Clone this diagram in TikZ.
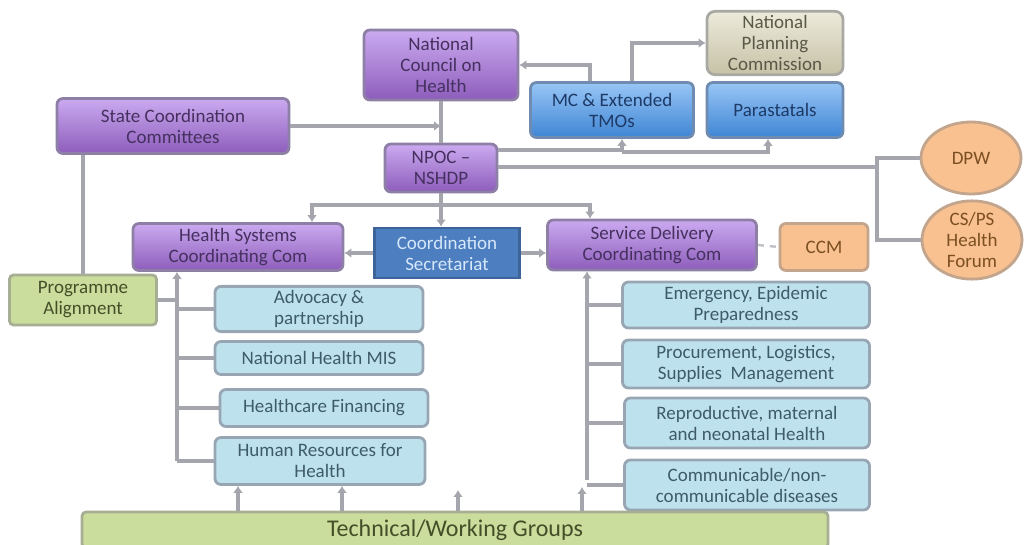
\documentclass[tikz,border=0pt]{standalone}
\usepackage{fontspec}
\setmainfont{Carlito}
\usetikzlibrary{shapes.geometric,arrows.meta}
\definecolor{purT}{HTML}{CBAAF0}
\definecolor{purB}{HTML}{8D5DBB}
\definecolor{purD}{HTML}{8E7FA6}
\definecolor{purTx}{HTML}{45305F}
\definecolor{bluT}{HTML}{98C6F6}
\definecolor{bluB}{HTML}{3F85D4}
\definecolor{bluD}{HTML}{6F8CB0}
\definecolor{bluTx}{HTML}{1E3A66}
\definecolor{secF}{HTML}{4D7EC0}
\definecolor{secD}{HTML}{3D6498}
\definecolor{secTx}{HTML}{D6E8FA}
\definecolor{begT}{HTML}{ECEADB}
\definecolor{begB}{HTML}{C6C2A6}
\definecolor{begD}{HTML}{A9A9A4}
\definecolor{begTx}{HTML}{5A5846}
\definecolor{orF}{HTML}{F9C18F}
\definecolor{orD}{HTML}{C2A58C}
\definecolor{orTx}{HTML}{7B4F22}
\definecolor{lbF}{HTML}{BDE1ED}
\definecolor{lbD}{HTML}{98A6B4}
\definecolor{lbTx}{HTML}{3E5B6A}
\definecolor{grF}{HTML}{CADD9C}
\definecolor{grD}{HTML}{A6AE94}
\definecolor{grTx}{HTML}{434F28}
\definecolor{lineC}{HTML}{A5A5AD}
\tikzset{
  base/.style={align=center, inner sep=2pt, font=\fontsize{9.5}{10.5}\selectfont, line width=1.4pt},
  purbox/.style={base, rounded corners=3pt, draw=purD, top color=purT, bottom color=purB, text=purTx},
  blubox/.style={base, rounded corners=3pt, draw=bluD, top color=bluT, bottom color=bluB, text=bluTx},
  secbox/.style={base, draw=secD, fill=secF, text=secTx},
  begbox/.style={base, rounded corners=4pt, draw=begD, top color=begT, bottom color=begB, text=begTx},
  orbox/.style={base, rounded corners=3pt, draw=orD, fill=orF, text=orTx},
  orell/.style={base, ellipse, inner sep=0pt, draw=orD, fill=orF, text=orTx},
  lbbox/.style={base, rounded corners=3pt, draw=lbD, fill=lbF, text=lbTx},
  grbox/.style={base, rounded corners=2pt, draw=grD, fill=grF, text=grTx},
  conn/.style={draw=lineC, line width=1.8pt},
  arr/.style={-{Latex[length=3.5pt,width=5pt]}},
  thinconn/.style={draw=lineC!70, line width=1.2pt, dashed}
}
\begin{document}
\begin{tikzpicture}[x=0.5pt,y=-0.5pt]
\useasboundingbox (0,0) rectangle (1025,545);
% nodes
\node[purbox, minimum width=77pt, minimum height=35pt] (nch) at (441,65) {National\\Council on\\Health};
\node[purbox, minimum width=116pt, minimum height=27.5pt] (scc) at (173,126) {State Coordination\\Committees};
\node[purbox, minimum width=56pt, minimum height=24pt] (npoc) at (441,168) {NPOC –\\NSHDP};
\node[begbox, minimum width=68pt, minimum height=31.5pt] (npc) at (775,43) {National\\Planning\\Commission};
\node[blubox, minimum width=81.5pt, minimum height=27.5pt] (mc) at (612,110) {MC \& Extended\\TMOs};
\node[blubox, minimum width=68pt, minimum height=27.5pt] (para) at (775,110) {Parastatals};
\node[orell, minimum width=50pt, minimum height=36pt] (dpw) at (971,158) {DPW};
\node[orell, minimum width=50pt, minimum height=35pt] (csps) at (972,240) {CS/PS\\Health\\Forum};
\node[orbox, minimum width=44pt, minimum height=23.5pt] (ccm) at (824,247) {CCM};
\node[purbox, minimum width=104.5pt, minimum height=25pt] (sdc) at (652,245) {Service Delivery\\Coordinating Com};
\node[secbox, minimum width=72.5pt, minimum height=25pt] (cs) at (447,253) {Coordination\\Secretariat};
\node[purbox, minimum width=105pt, minimum height=23.5pt] (hsc) at (238,247) {Health Systems\\Coordinating Com};
\node[grbox, minimum width=73.5pt, minimum height=25pt] (pa) at (83,300) {Programme\\Alignment};
\node[lbbox, minimum width=104pt, minimum height=19pt] (adv) at (319,309) {Advocacy \&\\partnership};
\node[lbbox, minimum width=104pt, minimum height=16.5pt] (mis) at (319,358) {National Health MIS};
\node[lbbox, minimum width=104pt, minimum height=18.5pt] (fin) at (324,408) {Healthcare Financing};
\node[lbbox, minimum width=105pt, minimum height=23.5pt] (hr) at (320,461) {Human Resources for\\Health};
\node[lbbox, minimum width=123.5pt, minimum height=23pt] (emg) at (746,305) {Emergency, Epidemic\\Preparedness};
\node[lbbox, minimum width=123.5pt, minimum height=24pt] (proc) at (746,364) {Procurement, Logistics,\\Supplies~ Management};
\node[lbbox, minimum width=122.5pt, minimum height=25pt] (repr) at (747,423) {Reproductive, maternal\\and neonatal Health};
\node[lbbox, minimum width=122.5pt, minimum height=25pt] (comm) at (747,485) {Communicable/non-\\communicable diseases};
\node[grbox, minimum width=373pt, minimum height=18pt, font=\fontsize{12}{13}\selectfont] (twg) at (455,530) {Technical/Working Groups};
% coordinates
\coordinate (j1) at (590,0);
\coordinate (j2) at (632,47);
\coordinate (y150) at (0,150);
\coordinate (j4) at (622,0);
\coordinate (j5) at (768,0);
\coordinate (y167) at (0,167);
\coordinate (v2) at (877,240);
\coordinate (bus) at (0,205);
\coordinate (bh) at (312,0);
\coordinate (bs) at (590,0);
\coordinate (hx) at (177,0);
\coordinate (sx) at (587,0);
\coordinate (send) at (587,480);
\coordinate (t1) at (238,0);
\coordinate (t2) at (342,0);
\coordinate (t3) at (458,490);
\coordinate (t4) at (582,487);
% connectors
\draw[conn] (nch.south) -- (npoc.north);
\draw[conn,arr] (scc.east) -- (scc.east -| nch.south);
\draw[conn,arr] (mc.north -| j1) |- (nch.east);
\draw[conn,arr] (mc.north -| j2) |- (npc.west);
\draw[conn,arr] (npoc.east |- y150) -| (mc.south -| j4);
\draw[conn,arr] (mc.south -| j4) ++(0,13) -| (para.south -| j5);
\draw[conn] (npoc.east |- y167) -- (v2 |- y167);
\draw[conn] (dpw.west) -| (v2) -- (csps.west);
\draw[conn,arr] (npoc.south) -- (npoc.south |- cs.north);
\draw[conn,arr] (npoc.south |- bus) -| (hsc.north -| bh);
\draw[conn,arr] (npoc.south |- bus) -| (sdc.north -| bs);
\draw[conn,arr] (cs.west) -- (cs.west -| hsc.east);
\draw[conn,arr] (cs.east) -- (cs.east -| sdc.west);
\draw[thinconn] (sdc.east) -- (ccm.west);
\draw[conn] (pa.north |- scc.south) -- (pa.north);
\draw[conn,arr] (hr.west -| hx) -- (hsc.south -| hx);
\draw[conn] (pa.east) -- (pa.east -| hx);
\draw[conn] (adv.west -| hx) -- (adv.west);
\draw[conn] (mis.west -| hx) -- (mis.west);
\draw[conn] (fin.west -| hx) -- (fin.west);
\draw[conn] (hr.west -| hx) -- (hr.west);
\draw[conn,arr] (send) -- (sdc.south -| sx);
\draw[conn] (emg.west -| sx) -- (emg.west);
\draw[conn] (proc.west -| sx) -- (proc.west);
\draw[conn] (repr.west -| sx) -- (repr.west);
\draw[conn] (comm.west -| sx) -- (comm.west);
\draw[conn,arr] (twg.north -| t1) -- (hr.south -| t1);
\draw[conn,arr] (twg.north -| t2) -- (hr.south -| t2);
\draw[conn,arr] (twg.north -| t3) -- (t3);
\draw[conn,arr] (twg.north -| t4) -- (t4);
\end{tikzpicture}
\end{document}
